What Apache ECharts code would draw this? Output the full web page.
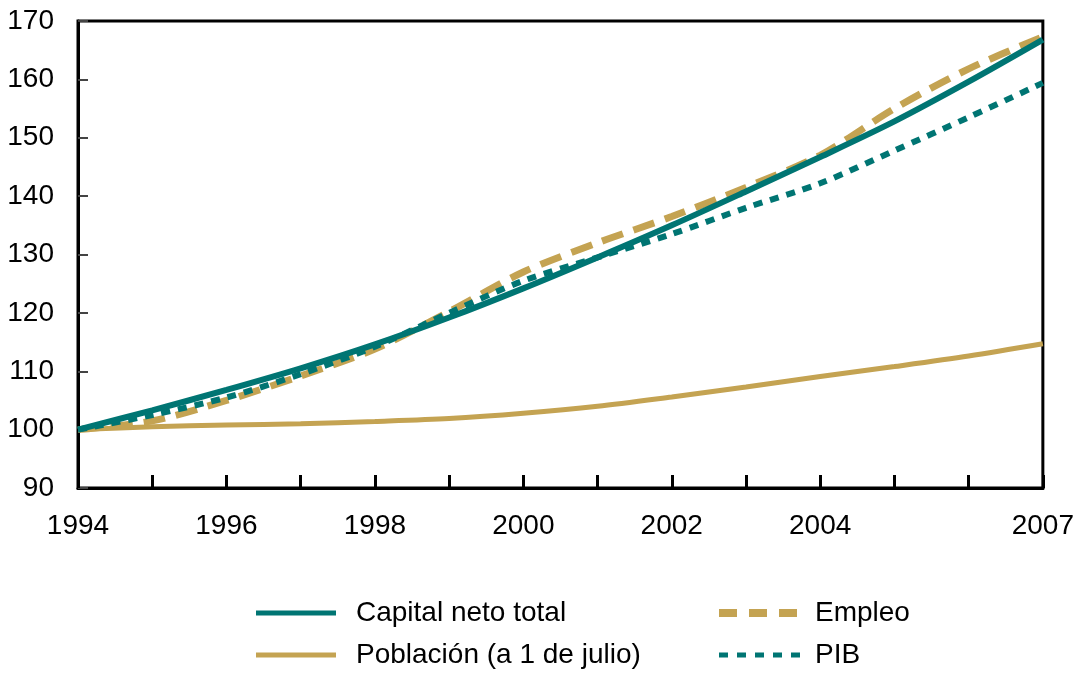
<!DOCTYPE html>
<html>
<head>
<meta charset="utf-8">
<script src="https://cdn.jsdelivr.net/npm/echarts@6/dist/echarts.min.js"></script>
<style>
  html, body { margin: 0; padding: 0; background: #fff; }
  #chart { width: 1077px; height: 676px; }
</style>
</head>
<body>
<div id="chart"></div>
<script>
const years = [1994, 1995, 1996, 1997, 1998, 1999, 2000, 2001, 2002, 2003, 2004, 2005, 2006, 2007]
const yearLabels = [1994, 1996, 1998, 2000, 2002, 2004, 2007]

const capital = [100, 103.3, 106.8, 110.5, 114.6, 119.2, 124.2, 129.5, 135.0, 140.8, 146.7, 152.8, 159.6, 166.8]
const empleo = [100, 101.5, 105.0, 109.2, 113.8, 120.2, 127.0, 132.0, 136.5, 141.5, 147.0, 155.0, 161.8, 167.3]
const pib = [100, 102.5, 105.5, 109.5, 114.2, 120.0, 125.5, 129.5, 133.5, 138.0, 142.2, 147.8, 153.5, 159.4]
const poblacion = [100, 100.5, 100.8, 101.0, 101.4, 101.9, 102.8, 104.0, 105.6, 107.3, 109.1, 110.8, 112.6, 114.7]

const teal = '#007573'
const gold = '#C4A352'
const font = 'Liberation Sans, Arial, sans-serif'

const pairs = (vals) => years.map((y, i) => [y, vals[i]])

// legend icons drawn as paths so the dash patterns show
const solidIcon = 'path://M0,0H80V5H0Z'
const dashIcon = 'path://M0,0H18V8H0Z M30,0H48V8H30Z M60,0H78V8H60Z'
const dotIcon = 'path://M0,0H9V5H0Z M18,0H27V5H18Z M36,0H45V5H36Z M54,0H63V5H54Z M72,0H81V5H72Z'

const legendItem = (name, icon, left, top, w, h, gap) => ({
  data: [{ name, icon }],
  left, top, padding: 0,
  itemWidth: w, itemHeight: h, symbolKeepAspect: false,
  textStyle: { color: '#000', fontFamily: font, fontSize: 28, padding: [0, 0, 0, gap] },
})

const chart = echarts.init(document.getElementById('chart'))

chart.setOption({
  animation: false,
  grid: {
    left: 78, right: 32, top: 21, bottom: 188,
    show: true, borderColor: '#000', borderWidth: 3, backgroundColor: 'transparent',
  },
  xAxis: {
    type: 'value', min: 1994, max: 2007, interval: 1,
    axisLine: { show: true, lineStyle: { color: '#000', width: 3 } },
    axisTick: { show: true, inside: true, length: 13, lineStyle: { color: '#000', width: 3 } },
    splitLine: { show: false },
    axisLabel: {
      margin: 24, color: '#000', fontFamily: font, fontSize: 28,
      formatter: (v) => (yearLabels.includes(v) ? String(v) : ''),
    },
  },
  yAxis: {
    type: 'value', min: 90, max: 170, interval: 10,
    axisLine: { show: true, lineStyle: { color: '#000', width: 3 } },
    axisTick: { show: true, inside: true, length: 10, lineStyle: { color: '#444', width: 2 } },
    splitLine: { show: false },
    axisLabel: { margin: 24, color: '#000', fontFamily: font, fontSize: 28 },
  },
  legend: [
    legendItem('Capital neto total', solidIcon, 256, 599, 80, 5, 15),
    legendItem('Población (a 1 de julio)', solidIcon, 256, 641, 80, 5, 15),
    legendItem('Empleo', dashIcon, 719, 599, 78, 8, 13),
    legendItem('PIB', dotIcon, 719, 641, 81, 5, 10),
  ],
  series: [
    {
      name: 'Población (a 1 de julio)', type: 'line', symbol: 'none', smooth: 0.3,
      data: pairs(poblacion), lineStyle: { color: gold, width: 5 }, itemStyle: { color: gold }, z: 2,
    },
    {
      name: 'Empleo', type: 'line', symbol: 'none', smooth: 0.3,
      data: pairs(empleo), lineStyle: { color: gold, width: 7, type: [22, 11] }, itemStyle: { color: gold }, z: 3,
    },
    {
      name: 'PIB', type: 'line', symbol: 'none', smooth: 0.3,
      data: pairs(pib), lineStyle: { color: teal, width: 6, type: [9, 8] }, itemStyle: { color: teal }, z: 4,
    },
    {
      name: 'Capital neto total', type: 'line', symbol: 'none', smooth: 0.3,
      data: pairs(capital), lineStyle: { color: teal, width: 6 }, itemStyle: { color: teal }, z: 5,
    },
  ],
})
</script>
</body>
</html>
